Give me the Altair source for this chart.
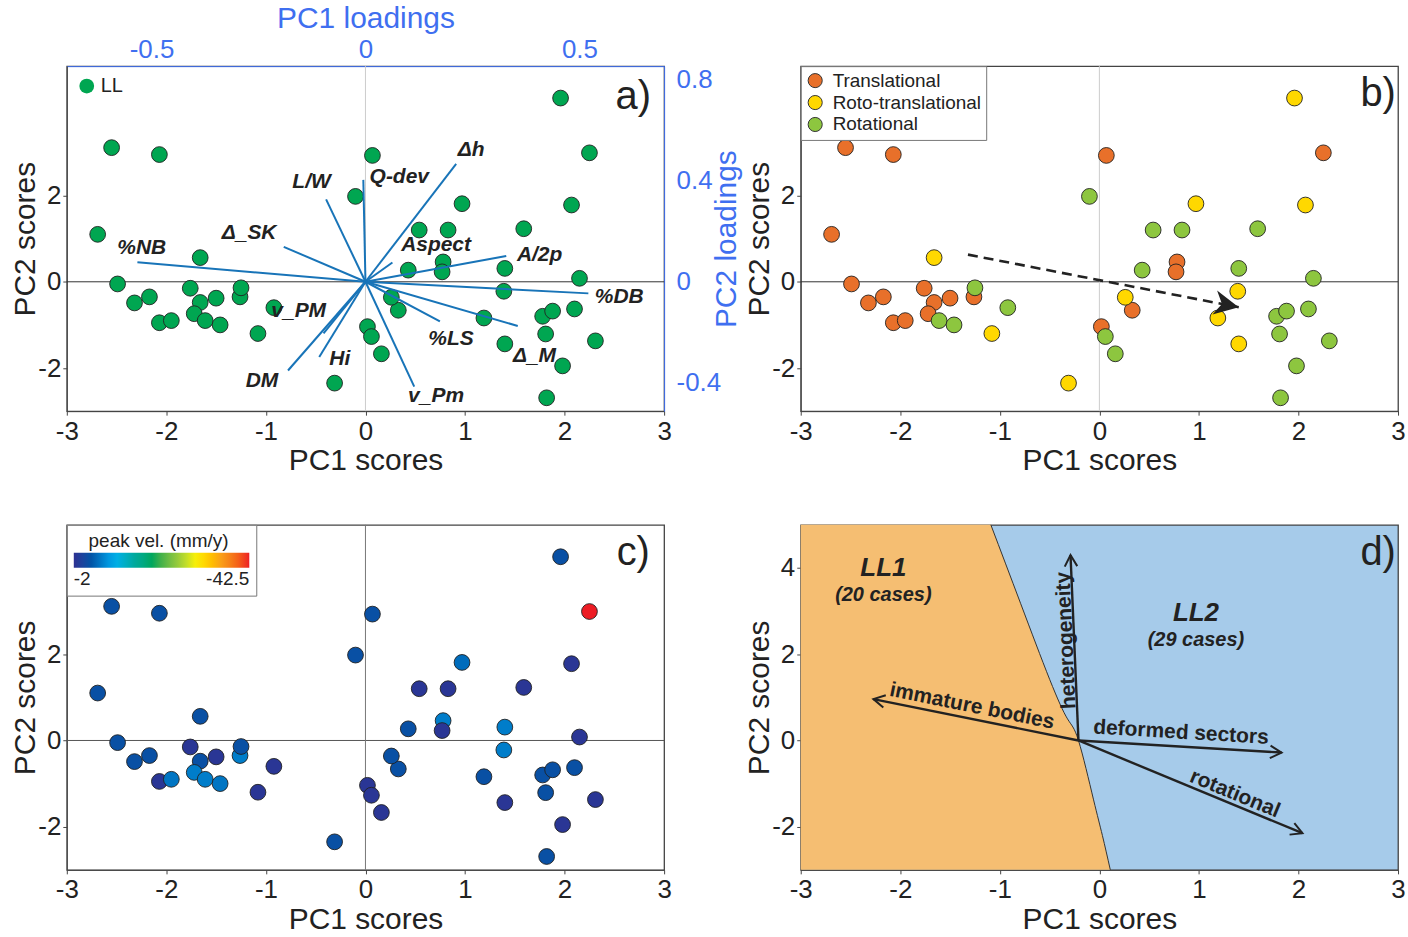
import math
import altair as alt
import pandas as pd

# ---------------- data ----------------
kinds = ["Translational", "Roto-translational", "Rotational"]
kind_colors = ["#E8702A", "#FFD800", "#8DC63F"]

# Translational
pc1_tr = [-2.55, -2.07, 0.07, 2.25, -2.69, -2.49, -2.32, -2.17, -1.76, -1.66, -1.50, -1.72, -2.07, -1.95, -1.26, 0.78, 0.77, 0.33, 0.02]
pc2_tr = [3.11, 2.95, 2.93, 2.99, 1.10, -0.05, -0.49, -0.35, -0.15, -0.48, -0.38, -0.74, -0.95, -0.90, -0.35, 0.46, 0.23, -0.66, -1.04]
vel_tr = [-5.5, -5.5, -5.5, -42.5, -5.5, -5.5, -5.5, -5.5, -2.5, -5.5, -2.5, -8.5, -2.5, -8.0, -8.5, -8.5, -2.5, -5.5, -2.5]
# Roto-translational
pc1_rt = [1.96, 0.97, 2.07, -1.66, 0.26, 1.39, 1.19, 1.40, -1.08, -0.31]
pc2_rt = [4.26, 1.81, 1.78, 0.56, -0.36, -0.22, -0.84, -1.44, -1.20, -2.35]
vel_rt = [-5.5, -7.5, -2.5, -5.5, -5.5, -8.5, -5.5, -2.5, -2.5, -5.5]
# Rotational
pc1_ro = [-0.10, 0.54, 0.83, 1.59, 0.43, 1.40, 2.15, -1.25, -0.92, -1.61, -1.46, 0.06, 0.16, 1.78, 1.88, 2.10, 1.81, 2.31, 1.98, 1.82]
pc2_ro = [1.98, 1.20, 1.20, 1.23, 0.27, 0.31, 0.08, -0.14, -0.60, -0.90, -1.00, -1.27, -1.67, -0.80, -0.68, -0.63, -1.21, -1.37, -1.95, -2.69]
vel_ro = [-5.5, -2.5, -2.5, -2.5, -5.5, -8.5, -2.5, -5.5, -2.5, -8.5, -8.0, -2.5, -2.5, -5.5, -5.5, -5.5, -5.5, -2.5, -2.5, -5.5]

# PCA loadings (panel a)
load_names = ["%NB", "Δ_SK", "L/W", "Q-dev", "Δh", "Aspect", "A/2p", "%DB", "Δ_M", "%LS", "v_Pm", "Hi", "DM", "v_PM"]
load1 = [-0.533, -0.191, -0.092, -0.005, 0.212, 0.063, 0.329, 0.521, 0.356, 0.174, 0.114, -0.108, -0.181, -0.098]
load2 = [0.077, 0.138, 0.326, 0.403, 0.466, 0.076, 0.102, -0.046, -0.175, -0.157, -0.415, -0.298, -0.351, -0.204]
lab1 = [-0.523, -0.272, -0.126, 0.079, 0.247, 0.165, 0.407, 0.593, 0.395, 0.200, 0.165, -0.060, -0.242, -0.156]
lab2 = [0.133, 0.192, 0.395, 0.415, 0.522, 0.145, 0.105, -0.061, -0.292, -0.228, -0.454, -0.304, -0.391, -0.117]

# velocity colour ramp (panel c)
vel_stops = [-2.0, -6.05, -11.3, -16.0, -20.6, -25.5, -30.35, -36.8, -42.5]
vel_colors = ["#2E3192", "#0054A6", "#00AEEF", "#00A99D", "#00A651", "#8DC63F", "#FFF200", "#F7941D", "#ED1C24"]

# panel b trend arrow
trend_start = [-1.32, 0.63]
trend_end = [1.40, -0.59]

# panel d: class boundary and interpretive axes
bnd_x = [-1.09, -0.79, -0.50, -0.32, -0.21, -0.06, 0.03, 0.11]
bnd_y = [5.0, 3.17, 1.42, 0.50, 0.0, -1.36, -2.2, -3.0]
d_origin = [-0.21, 0.0]
arr_names = ["heterogeneity", "immature bodies", "deformed sectors", "rotational"]
arr_x = [-0.29, -2.27, 1.83, 2.04]
arr_y = [4.30, 0.96, -0.28, -2.15]
arr_lab_x = [-0.33, -1.28, 0.82, 1.36]
arr_lab_y = [2.32, 0.79, 0.18, -1.24]
grp_names = ["LL1", "LL2"]
grp_cases = ["(20 cases)", "(29 cases)"]
grp_x = [-2.17, 0.97]
grp_y = [4.01, 2.96]
grp_sub_y = [3.37, 2.32]

x_ticks = [-3, -2, -1, 0, 1, 2, 3]

# ---------------- styling ----------------
W, H = 599, 346
XD, YD = [-3, 3], [-3, 5]
FONT = "Liberation Sans"
INK = "#222222"
LBLUE = "#3F6FF0"
LOADC = "#1874B8"
ORANGE_BG = "#F5BE72"
BLUE_BG = "#A6CBEA"
PXX, PXY = W / 6.0, H / 8.0

scores = pd.DataFrame({
    "pc1": pc1_tr + pc1_rt + pc1_ro,
    "pc2": pc2_tr + pc2_rt + pc2_ro,
    "kind": [kinds[0]] * len(pc1_tr) + [kinds[1]] * len(pc1_rt) + [kinds[2]] * len(pc1_ro),
    "vel": vel_tr + vel_rt + vel_ro,
})
scores["grp"] = "LL"

LBL = "'' + datum.value"


def x_axis():
    return alt.Axis(values=x_ticks, title="PC1 scores", labelFlush=False,
                    labelExpr=LBL, titlePadding=2)


def xenc(field="pc1:Q"):
    return alt.X(field, scale=alt.Scale(domain=XD, nice=False, zero=False), axis=x_axis())


def yenc(vals, field="pc2:Q"):
    return alt.Y(field, scale=alt.Scale(domain=YD, nice=False, zero=False),
                 axis=alt.Axis(values=vals, title="PC2 scores", labelExpr=LBL,
                               titlePadding=3, titleBaseline="alphabetic",
                               labelFlush=False, labelPadding=2))


one = pd.DataFrame({"k": [0]})


def hline(color):
    return alt.Chart(one).mark_rule(color=color, strokeWidth=1).encode(y=alt.datum(0))


def vline(color):
    return alt.Chart(one).mark_rule(color=color, strokeWidth=1).encode(x=alt.datum(0))


def tag(txt, x, y):
    return alt.Chart(one).mark_text(fontSize=40, font=FONT, color=INK, align="center",
                                    baseline="middle").encode(
        x=alt.datum(x), y=alt.datum(y), text=alt.value(txt))


PT = dict(size=250, opacity=1, stroke="#222222", strokeWidth=0.9)

# ---------------- panel a ----------------
pts_a = alt.Chart(scores).mark_circle(**PT).encode(
    x=xenc(), y=yenc([-2, 0, 2]),
    fill=alt.Fill("grp:N", scale=alt.Scale(domain=["LL"], range=["#00A651"]),
                  legend=alt.Legend(title=None, orient="top-left", offset=6, padding=4,
                                    labelFontSize=20, symbolSize=220, symbolStrokeWidth=0,
                                    labelColor=INK)),
)
score_a = alt.layer(hline("#333333"), vline("#CCCCCC"), pts_a, tag("a)", 2.69, 4.29))

load_df = pd.DataFrame({"name": load_names, "l1": load1, "l2": load2, "t1": lab1, "t2": lab2})
load_df["o"] = 0.0
LX = alt.Scale(domain=[-0.698, 0.698], nice=False, zero=False)
LY = alt.Scale(domain=[-0.512, 0.853], nice=False, zero=False)


def ax_top():
    return alt.Axis(orient="top", values=[-0.5, 0, 0.5], title="PC1 loadings", labelExpr=LBL,
                    labelColor=LBLUE, titleColor=LBLUE, domainColor=LBLUE, tickColor=LBLUE,
                    labelFlush=False, titlePadding=3, tickSize=0, labelPadding=4)


def ax_right():
    return alt.Axis(orient="right", values=[-0.4, 0, 0.4, 0.8], title="PC2 loadings",
                    labelExpr=LBL, titleAngle=270, titleBaseline="middle", titleAlign="center",
                    titleX=63, titleY=H / 2, labelColor=LBLUE,
                    titleColor=LBLUE, domainColor=LBLUE, tickColor=LBLUE, labelFlush=False,
                    tickSize=0, labelPadding=12)


load_lines = alt.Chart(load_df).mark_rule(color=LOADC, strokeWidth=2).encode(
    x=alt.X("o:Q", scale=LX, axis=ax_top()), y=alt.Y("o:Q", scale=LY, axis=ax_right()),
    x2="l1:Q", y2="l2:Q")
load_text = alt.Chart(load_df).mark_text(font=FONT, fontSize=21, fontWeight="bold",
                                         fontStyle="italic", color=INK).encode(
    x=alt.X("t1:Q", scale=LX, axis=ax_top()), y=alt.Y("t2:Q", scale=LY, axis=ax_right()),
    text="name:N")
load_layer = alt.layer(load_lines, load_text)

panel_a = alt.layer(score_a, load_layer).resolve_scale(
    x="independent", y="independent").properties(width=W, height=H)

# ---------------- panel b ----------------
pts_b = alt.Chart(scores).mark_circle(**PT).encode(
    x=xenc(), y=yenc([-2, 0, 2]),
    fill=alt.Fill("kind:N", scale=alt.Scale(domain=kinds, range=kind_colors),
                  sort=kinds,
                  legend=alt.Legend(title=None, orient="top-left", offset=0, padding=5,
                                    strokeColor="#777777", fillColor="white",
                                    labelFontSize=19, symbolSize=200, symbolStrokeColor="#333333",
                                    symbolStrokeWidth=1, labelColor=INK, rowPadding=2,
                                    labelOffset=8)),
)
sx, sy = trend_start
ex, ey = trend_end
trend_ang = math.degrees(math.atan2((ex - sx) * PXX, (ey - sy) * PXY)) % 360
trend_df = pd.DataFrame({"sx": [sx], "sy": [sy], "ex": [ex], "ey": [ey], "ang": [trend_ang]})
trend_line = alt.Chart(trend_df).mark_rule(color=INK, strokeWidth=2.6, strokeDash=[10, 6]).encode(
    x="sx:Q", y="sy:Q", x2="ex:Q", y2="ey:Q")
trend_head = alt.Chart(trend_df).mark_point(
    shape="M0,0L-0.5,1L0,0.7L0.5,1Z", filled=True, size=2400, color=INK, opacity=1).encode(
    x="ex:Q", y="ey:Q", angle=alt.Angle("ang:Q", scale=None))
panel_b = alt.layer(hline("#333333"), vline("#CCCCCC"), pts_b, trend_line, trend_head,
                    tag("b)", 2.80, 4.35)).properties(width=W, height=H)

# ---------------- panel c ----------------
pts_c = alt.Chart(scores).mark_circle(**PT).encode(
    x=xenc(), y=yenc([-2, 0, 2]),
    fill=alt.Fill("vel:Q", scale=alt.Scale(domain=vel_stops, range=vel_colors, nice=False, zero=False),
                  legend=alt.Legend(title="peak vel. (mm/y)", orient="top-left", offset=0,
                                    direction="horizontal", gradientLength=176,
                                    gradientThickness=15, values=[-2, -42.5], labelExpr=LBL,
                                    padding=7, strokeColor="#777777", fillColor="white",
                                    titleFontSize=19, titleFontWeight="normal", labelFontSize=19,
                                    titleAnchor="middle", labelColor=INK, titleColor=INK,
                                    gradientStrokeWidth=0, titlePadding=2)),
)
panel_c = alt.layer(hline("#555555"), vline("#777777"), pts_c,
                    tag("c)", 2.69, 4.35)).properties(width=W, height=H)

# ---------------- panel d ----------------
bnd = pd.DataFrame({"bx": bnd_x, "by": bnd_y, "i": list(range(len(bnd_x)))})
bnd["left"] = XD[0]
orange_area = alt.Chart(bnd).mark_area(orient="horizontal", color=ORANGE_BG, opacity=1,
                                       interpolate="natural").encode(
    x=alt.X("left:Q", stack=None, scale=alt.Scale(domain=XD, nice=False, zero=False),
            axis=x_axis()),
    x2="bx:Q", y=yenc([-2, 0, 2, 4], "by:Q"))
bnd_line = alt.Chart(bnd).mark_line(color="#333333", strokeWidth=1, interpolate="natural").encode(
    x="bx:Q", y="by:Q", order="i:Q")

ox, oy = d_origin
head_ang, txt_ang = [], []
for ax_, ay_ in zip(arr_x, arr_y):
    dxs, dys = (ax_ - ox) * PXX, -(ay_ - oy) * PXY
    head_ang.append(math.degrees(math.atan2(dxs, -dys)) % 360)
    if dxs < -20:
        dxs, dys = -dxs, -dys
    txt_ang.append(math.degrees(math.atan2(dys, dxs)) % 360)
arr_df = pd.DataFrame({"name": arr_names, "ax": arr_x, "ay": arr_y, "ox": ox, "oy": oy,
                       "hang": head_ang, "tx": arr_lab_x, "ty": arr_lab_y, "tang": txt_ang})
arr_lines = alt.Chart(arr_df).mark_rule(color=INK, strokeWidth=2.4).encode(
    x="ox:Q", y="oy:Q", x2="ax:Q", y2="ay:Q")
arr_heads = alt.Chart(arr_df).mark_point(shape="M-0.55,1L0,0L0.55,1", filled=False, size=520,
                                         color=INK, strokeWidth=2, opacity=1).encode(
    x="ax:Q", y="ay:Q", angle=alt.Angle("hang:Q", scale=None))
arr_text = alt.Chart(arr_df).mark_text(font=FONT, fontSize=21, fontWeight="bold", color=INK,
                                       align="center", baseline="middle").encode(
    x="tx:Q", y="ty:Q", text="name:N", angle=alt.Angle("tang:Q", scale=None))
grp_df = pd.DataFrame({"g": grp_names, "c": grp_cases, "x": grp_x, "y": grp_y, "y2": grp_sub_y})
grp_t = alt.Chart(grp_df).mark_text(font=FONT, fontSize=26, fontWeight="bold", fontStyle="italic",
                                    color=INK).encode(x="x:Q", y="y:Q", text="g:N")
grp_s = alt.Chart(grp_df).mark_text(font=FONT, fontSize=20, fontWeight="bold", fontStyle="italic",
                                    color=INK).encode(x="x:Q", y="y2:Q", text="c:N")
panel_d = alt.layer(orange_area, bnd_line, arr_lines, arr_heads, arr_text, grp_t, grp_s,
                    tag("d)", 2.80, 4.35)).properties(
    width=W, height=H, view=alt.ViewBackground(fill=BLUE_BG))

# ---------------- layout ----------------
chart = alt.concat(panel_a, panel_b, panel_c, panel_d, columns=2,
                   spacing={"row": 114, "column": 137}, bounds="flush").resolve_scale(
    fill="independent").properties(
    padding={"left": 10, "top": 1, "right": 2, "bottom": 1}
).configure(font=FONT).configure_view(stroke="#444444", strokeWidth=1.3).configure_axis(
    grid=False, labelFont=FONT, titleFont=FONT, labelFontSize=26, titleFontSize=30,
    titleFontWeight="normal", labelColor=INK, titleColor=INK, domainColor="#444444",
    tickColor="#444444", tickSize=4, labelPadding=3
).configure_legend(labelFont=FONT, titleFont=FONT)

chart.save("out.html", embed_options={"renderer": "svg", "actions": False})
